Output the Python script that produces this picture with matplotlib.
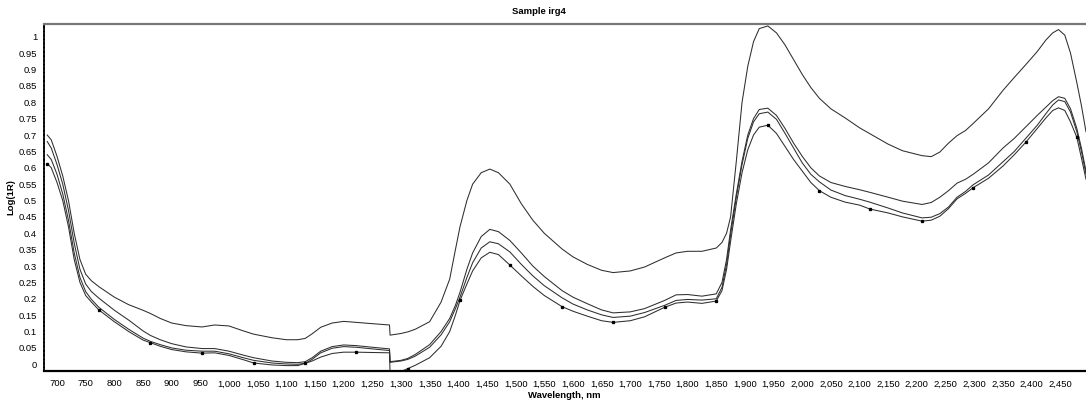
import matplotlib
matplotlib.use("Agg")
import matplotlib.pyplot as plt
from matplotlib.ticker import FuncFormatter, MultipleLocator

# ---------------- data ----------------
wavelength = [683, 690, 700, 710, 720, 730, 740, 750, 760, 773,
              800, 825, 850, 863, 880, 900, 925, 953, 975, 1000,
              1025, 1043, 1075, 1100, 1120, 1133, 1145, 1160, 1180, 1200,
              1222, 1250, 1280, 1281, 1300, 1312, 1325, 1350, 1370, 1385,
              1395, 1403, 1415, 1425, 1440, 1455, 1470, 1490, 1510, 1530,
              1550, 1581, 1600, 1625, 1650, 1670, 1700, 1725, 1760, 1780,
              1800, 1825, 1850, 1860, 1868, 1875, 1885, 1895, 1905, 1915,
              1925, 1940, 1955, 1970, 1985, 2000, 2015, 2030, 2050, 2075,
              2100, 2118, 2150, 2175, 2209, 2225, 2240, 2255, 2270, 2285,
              2298, 2325, 2350, 2370, 2390, 2410, 2425, 2437, 2447, 2458,
              2468, 2479, 2487, 2495]

spectrum_a = [0.700, 0.685, 0.635, 0.575, 0.500, 0.400, 0.320, 0.275, 0.255, 0.237,
              0.205, 0.182, 0.165, 0.155, 0.140, 0.126, 0.118, 0.114, 0.120, 0.117,
              0.102, 0.092, 0.081, 0.075, 0.075, 0.079, 0.093, 0.113, 0.126, 0.131,
              0.128, 0.124, 0.120, 0.089, 0.094, 0.099, 0.107, 0.130, 0.190, 0.260,
              0.350, 0.420, 0.500, 0.550, 0.585, 0.596, 0.585, 0.550, 0.490, 0.440,
              0.400, 0.352, 0.328, 0.305, 0.287, 0.280, 0.285, 0.297, 0.325, 0.340,
              0.345, 0.345, 0.355, 0.372, 0.400, 0.450, 0.620, 0.800, 0.910, 0.985,
              1.025, 1.033, 1.012, 0.975, 0.930, 0.885, 0.845, 0.812, 0.780, 0.752,
              0.722, 0.704, 0.672, 0.652, 0.637, 0.634, 0.648, 0.675, 0.698, 0.714,
              0.735, 0.780, 0.836, 0.876, 0.915, 0.955, 0.990, 1.012, 1.022, 1.005,
              0.950, 0.860, 0.790, 0.710]

spectrum_b = [0.680, 0.660, 0.610, 0.550, 0.470, 0.370, 0.290, 0.245, 0.222, 0.202,
              0.165, 0.135, 0.102, 0.088, 0.075, 0.063, 0.053, 0.048, 0.048, 0.040,
              0.028, 0.020, 0.010, 0.006, 0.005, 0.008, 0.020, 0.040, 0.054, 0.059,
              0.057, 0.052, 0.047, 0.008, 0.012, 0.018, 0.030, 0.060, 0.100, 0.140,
              0.180, 0.220, 0.290, 0.340, 0.390, 0.412, 0.405, 0.378, 0.340, 0.300,
              0.268, 0.225, 0.205, 0.185, 0.166, 0.157, 0.160, 0.170, 0.195, 0.212,
              0.213, 0.208, 0.215, 0.250, 0.320, 0.410, 0.520, 0.620, 0.700, 0.750,
              0.778, 0.782, 0.760, 0.720, 0.675, 0.635, 0.600, 0.575, 0.555, 0.543,
              0.533, 0.525, 0.510, 0.498, 0.488, 0.494, 0.510, 0.530, 0.553, 0.565,
              0.580, 0.615, 0.660, 0.690, 0.725, 0.760, 0.785, 0.805, 0.817, 0.812,
              0.780, 0.720, 0.660, 0.590]

spectrum_c = [0.640, 0.625, 0.580, 0.520, 0.440, 0.340, 0.265, 0.222, 0.198, 0.174,
              0.137, 0.107, 0.080, 0.070, 0.060, 0.050, 0.043, 0.040, 0.040, 0.032,
              0.020, 0.012, 0.004, 0.001, 0.000, 0.003, 0.015, 0.035, 0.049, 0.054,
              0.052, 0.047, 0.042, 0.006, 0.010, 0.015, 0.025, 0.052, 0.090, 0.130,
              0.170, 0.205, 0.265, 0.310, 0.355, 0.374, 0.368, 0.343, 0.305, 0.270,
              0.240, 0.203, 0.184, 0.166, 0.151, 0.143, 0.147, 0.158, 0.180, 0.195,
              0.198, 0.196, 0.200, 0.235, 0.305, 0.395, 0.510, 0.610, 0.690, 0.740,
              0.765, 0.770, 0.748, 0.705, 0.660, 0.615, 0.580, 0.557, 0.532, 0.515,
              0.504, 0.495, 0.477, 0.462, 0.447, 0.449, 0.460, 0.480, 0.510, 0.528,
              0.548, 0.578, 0.618, 0.650, 0.690, 0.730, 0.765, 0.792, 0.807, 0.802,
              0.770, 0.710, 0.650, 0.580]

spectrum_d = [0.613, 0.600, 0.555, 0.500, 0.420, 0.320, 0.250, 0.210, 0.190, 0.166,
              0.130, 0.100, 0.074, 0.066, 0.055, 0.045, 0.038, 0.034, 0.035, 0.027,
              0.014, 0.004, -0.002, -0.004, -0.004, 0.003, 0.010, 0.022, 0.033, 0.037,
              0.037, 0.036, 0.035, -0.030, -0.022, -0.013, -0.003, 0.020, 0.055, 0.100,
              0.150, 0.195, 0.245, 0.285, 0.325, 0.342, 0.335, 0.303, 0.270, 0.238,
              0.210, 0.176, 0.162, 0.147, 0.133, 0.128, 0.133, 0.145, 0.174, 0.187,
              0.190, 0.186, 0.193, 0.225, 0.290, 0.375, 0.490, 0.585, 0.655, 0.700,
              0.724, 0.730, 0.705, 0.665, 0.625, 0.590, 0.555, 0.530, 0.510, 0.495,
              0.486, 0.474, 0.462, 0.450, 0.437, 0.440, 0.452, 0.475, 0.505, 0.522,
              0.539, 0.568, 0.605, 0.640, 0.678, 0.720, 0.752, 0.775, 0.783, 0.775,
              0.740, 0.693, 0.630, 0.565]

# wavelengths at which the reference shows a small dot on the lowest spectrum
marker_wavelengths = [683, 773, 863, 953, 1043, 1133, 1222, 1312, 1403, 1490,
                      1581, 1670, 1760, 1850, 1940, 2030, 2118, 2209, 2298, 2390, 2479]

title_text = "Sample irg4"
x_label = "Wavelength, nm"
y_label = "Log(1R)"

# ---------------- figure ----------------
plt.rcParams['font.family'] = ['Liberation Sans', 'DejaVu Sans']
fig = plt.figure(figsize=(10.86, 4.04), dpi=100)
ax = fig.add_axes([44 / 1086, 33 / 404, 1 - 44 / 1086, (371 - 24) / 404])

line_color = '#2e2e2e'
for series in (spectrum_a, spectrum_b, spectrum_c):
    ax.plot(wavelength, series, color=line_color, lw=0.75, solid_joinstyle='round')

mark_idx = [wavelength.index(w) for w in marker_wavelengths]
ax.plot(wavelength, spectrum_d, color=line_color, lw=0.75, marker='s', markersize=1.4,
        markerfacecolor='black', markeredgecolor='black', markevery=mark_idx,
        solid_joinstyle='round')

ax.set_xlim(677.3, 2495)
ax.set_ylim(-0.0205, 1.039)

ax.xaxis.set_major_locator(MultipleLocator(50))
ax.yaxis.set_major_locator(MultipleLocator(0.05))
ax.xaxis.set_major_formatter(FuncFormatter(lambda v, p: f"{int(round(v)):,}"))
ax.yaxis.set_major_formatter(FuncFormatter(lambda v, p: f"{v:.2f}".rstrip('0').rstrip('.') if abs(v) > 1e-9 else "0"))
ax.tick_params(axis='both', length=0, labelsize=6.8, colors='black')
ax.tick_params(axis='x', pad=6)
ax.tick_params(axis='y', pad=5)

ax.spines['right'].set_visible(False)
ax.spines['top'].set_color('#777777')
ax.spines['top'].set_linewidth(1.6)
ax.spines['bottom'].set_color('black')
ax.spines['bottom'].set_linewidth(1.6)
ax.spines['left'].set_color('black')
ax.spines['left'].set_linewidth(1.3)
ax.spines['left'].set_linestyle((0, (1.5, 0.8)))

fig.text(539 / 1086, 1 - 12 / 404, title_text, ha='center', va='center',
         fontsize=6.8, fontweight='bold')
fig.text(564 / 1086, 1 - 395 / 404, x_label, ha='center', va='center',
         fontsize=6.8, fontweight='bold')
fig.text(11 / 1086, 1 - 197 / 404, y_label, ha='center', va='center',
         rotation=90, fontsize=6.8, fontweight='bold')

fig.savefig("out.png", dpi=100)
